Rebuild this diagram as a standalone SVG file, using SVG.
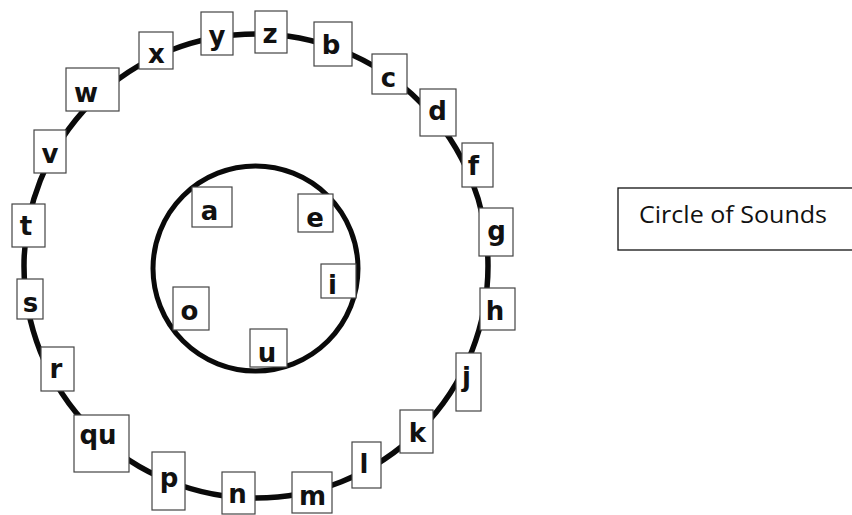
<svg xmlns="http://www.w3.org/2000/svg" width="852" height="515" viewBox="0 0 852 515">
<style>
.ring{fill:none;stroke:#0a0a0a;stroke-width:5.5}
.box{fill:#fff;stroke:#444;stroke-width:1.2}
.lt{font-family:"DejaVu Sans","Liberation Sans",sans-serif;font-size:26px;font-weight:bold;fill:#111;text-anchor:middle}
.title{font-family:"Open Sans","Liberation Sans",sans-serif;font-size:24px;fill:#111}
</style>
<rect width="852" height="515" fill="#fff"/>
<g id="connectors">
<circle class="ring" cx="256" cy="266" r="232"/>
<circle class="ring" cx="255.5" cy="268.5" r="102.5" style="stroke-width:5"/>
</g>
<g id="node-y"><rect class="box" x="201" y="12" width="32" height="43"/><text class="lt" x="217" y="45">y</text></g>
<g id="node-z"><rect class="box" x="255" y="11" width="32" height="42"/><text class="lt" x="270" y="43">z</text></g>
<g id="node-x"><rect class="box" x="139" y="32" width="34" height="37"/><text class="lt" x="156.5" y="63">x</text></g>
<g id="node-w"><rect class="box" x="66" y="68" width="53" height="43"/><text class="lt" x="86" y="102">w</text></g>
<g id="node-v"><rect class="box" x="34" y="130" width="32" height="43"/><text class="lt" x="50" y="163">v</text></g>
<g id="node-t"><rect class="box" x="12" y="204" width="33" height="43"/><text class="lt" x="26" y="235">t</text></g>
<g id="node-s"><rect class="box" x="17" y="279" width="26" height="40"/><text class="lt" x="30.5" y="312">s</text></g>
<g id="node-r"><rect class="box" x="41" y="347" width="33" height="44"/><text class="lt" x="56" y="378">r</text></g>
<g id="node-qu"><rect class="box" x="74" y="415" width="55" height="57"/><text class="lt" x="98" y="444">qu</text></g>
<g id="node-p"><rect class="box" x="152" y="452" width="33" height="58"/><text class="lt" x="169" y="487">p</text></g>
<g id="node-n"><rect class="box" x="222" y="472" width="33" height="42"/><text class="lt" x="237.5" y="503">n</text></g>
<g id="node-m"><rect class="box" x="292" y="472" width="40" height="41"/><text class="lt" x="312.5" y="505">m</text></g>
<g id="node-l"><rect class="box" x="352" y="442" width="29" height="46"/><text class="lt" x="364" y="473">l</text></g>
<g id="node-k"><rect class="box" x="400" y="410" width="33" height="43"/><text class="lt" x="417.5" y="442">k</text></g>
<g id="node-j"><rect class="box" x="456" y="353" width="25" height="58"/><text class="lt" x="466.5" y="386">j</text></g>
<g id="node-h"><rect class="box" x="480" y="288" width="35" height="42"/><text class="lt" x="495" y="320">h</text></g>
<g id="node-g"><rect class="box" x="479" y="208" width="34" height="48"/><text class="lt" x="496.5" y="240">g</text></g>
<g id="node-f"><rect class="box" x="462" y="143" width="31" height="44"/><text class="lt" x="473.5" y="175">f</text></g>
<g id="node-d"><rect class="box" x="420" y="89" width="36" height="47"/><text class="lt" x="437.5" y="120">d</text></g>
<g id="node-c"><rect class="box" x="372" y="54" width="35" height="40"/><text class="lt" x="388.5" y="87">c</text></g>
<g id="node-b"><rect class="box" x="314" y="22" width="38" height="44"/><text class="lt" x="331" y="54">b</text></g>
<g id="node-a"><rect class="box" x="192" y="187" width="40" height="40"/><text class="lt" x="209.5" y="220">a</text></g>
<g id="node-e"><rect class="box" x="298" y="194" width="35" height="38"/><text class="lt" x="315" y="227">e</text></g>
<g id="node-i"><rect class="box" x="321" y="264" width="35" height="34"/><text class="lt" x="332.5" y="294">i</text></g>
<g id="node-o"><rect class="box" x="173" y="287" width="36" height="43"/><text class="lt" x="189.5" y="320">o</text></g>
<g id="node-u"><rect class="box" x="250" y="329" width="37" height="38"/><text class="lt" x="267" y="362">u</text></g>
<g id="title">
<rect x="618" y="188" width="240" height="62" fill="#fff" stroke="#111" stroke-width="1.3"/>
<text class="title" x="639" y="223" textLength="188" lengthAdjust="spacingAndGlyphs">Circle of Sounds</text>
</g>
</svg>
